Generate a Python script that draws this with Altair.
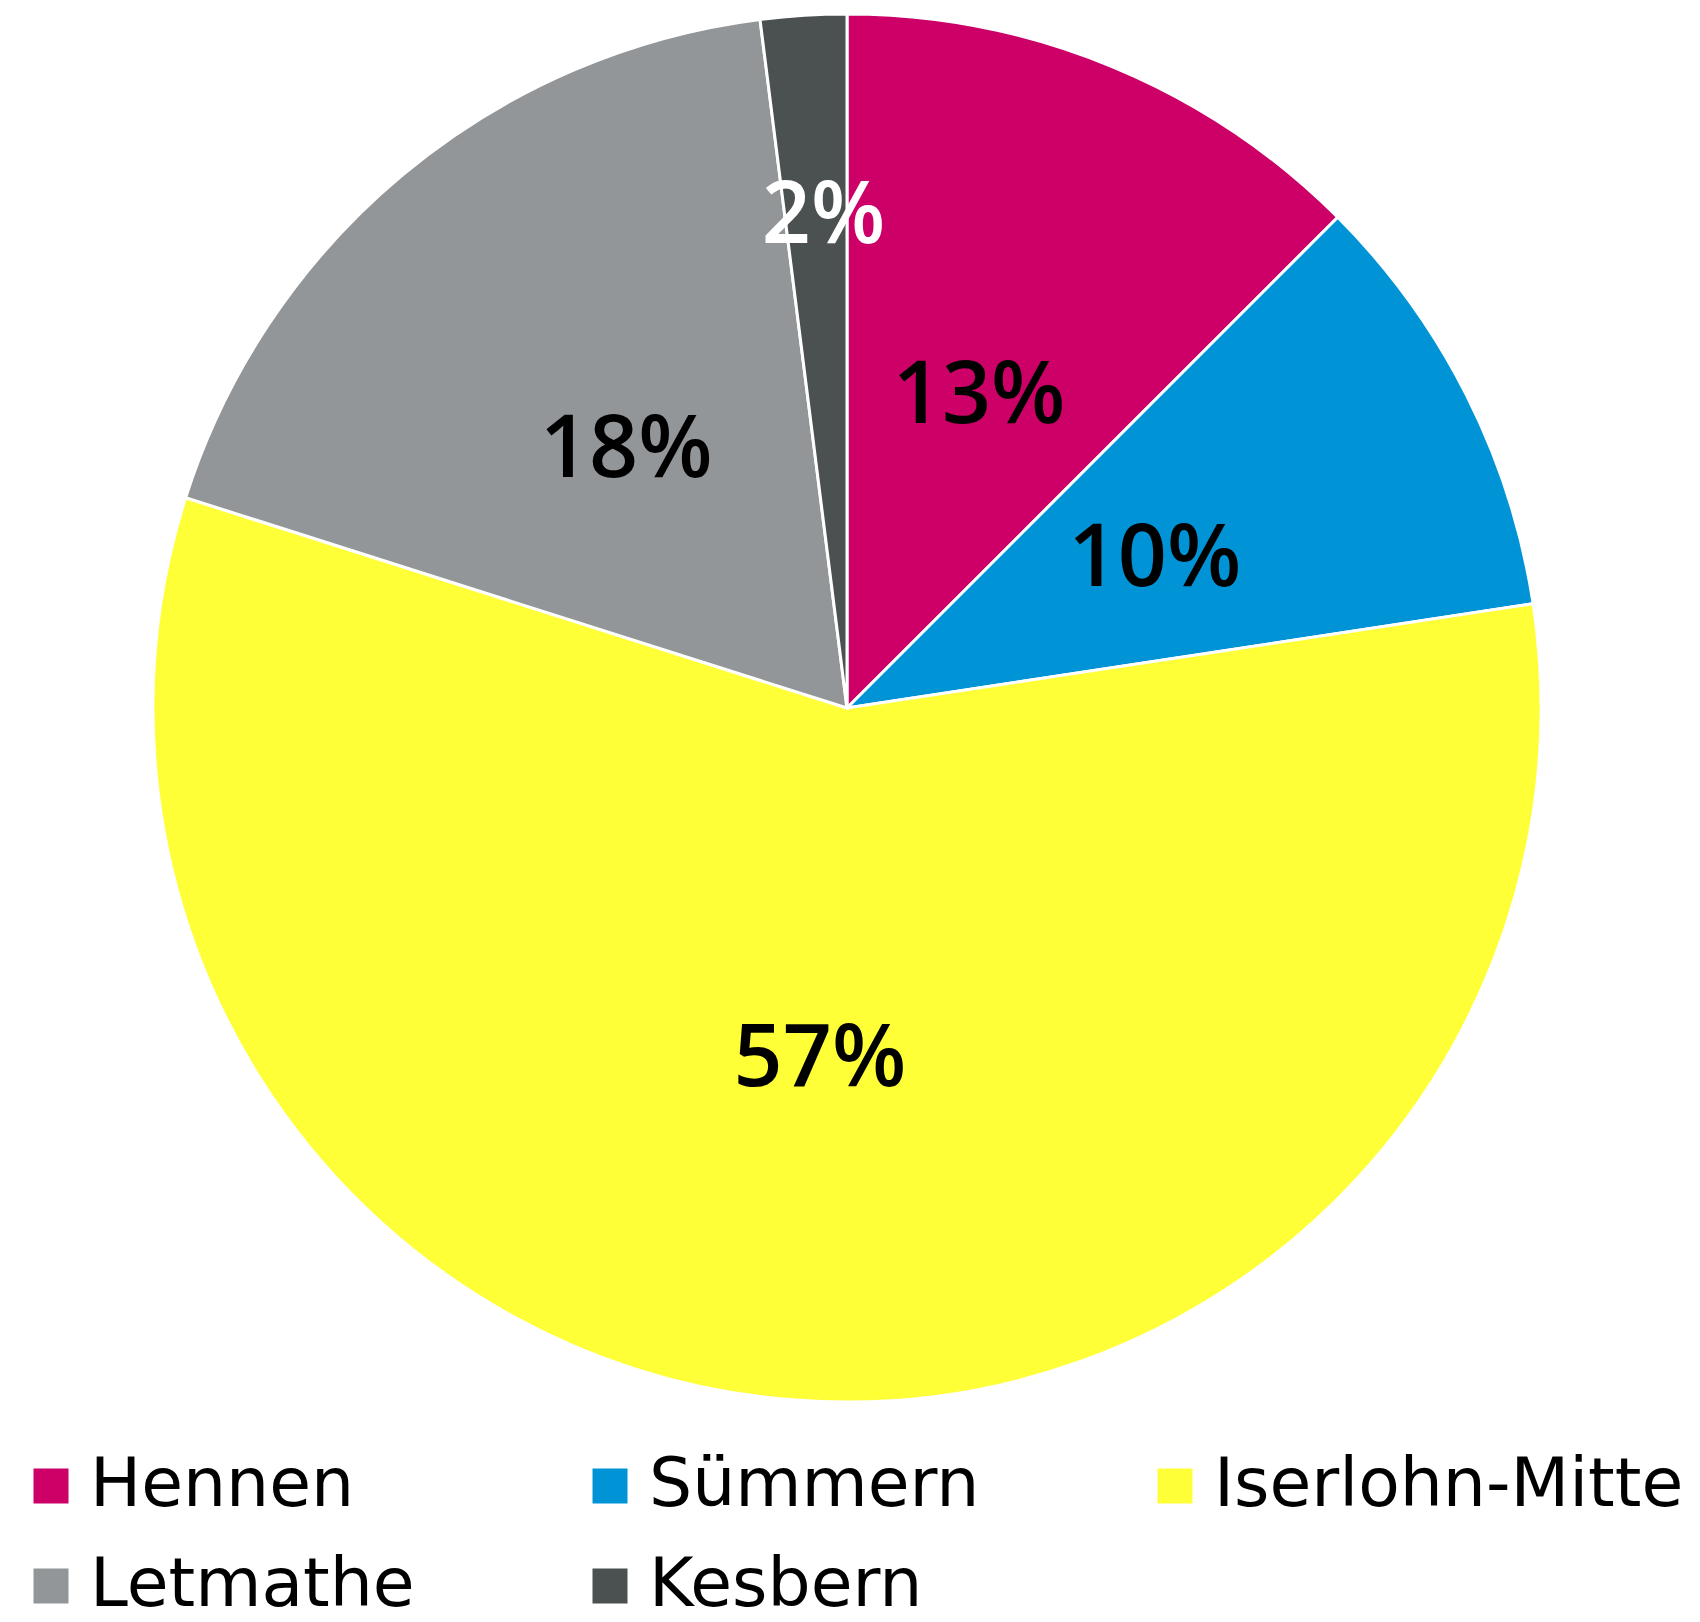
import altair as alt
import pandas as pd

regions = ["Hennen", "Sümmern", "Iserlohn-Mitte", "Letmathe", "Kesbern"]
shares = [12.5, 10.1, 57.3, 18.1, 2.0]
labels = ["13%", "10%", "57%", "18%", "2%"]
colors = ["#CC0066", "#0093D6", "#FFFF38", "#939699", "#4B5050"]

df = pd.DataFrame({
    "region": regions,
    "share": shares,
    "label": labels,
    "idx": list(range(len(regions))),
})

arcs = alt.Chart(df).mark_arc(outerRadius=694, stroke="white", strokeWidth=3).encode(
    theta=alt.Theta("share:Q", stack=True),
    order=alt.Order("idx:Q"),
    color=alt.Color(
        "region:N",
        scale=alt.Scale(domain=regions, range=colors),
        sort=regions,
        legend=alt.Legend(
            title=None,
            orient="none",
            direction="horizontal",
            legendX=9,
            legendY=1443,
            columns=3,
            symbolType="square",
            symbolSize=1225,
            symbolStrokeWidth=0,
            labelFont="DejaVu Sans",
            labelFontSize=68,
            labelColor="black",
            labelOffset=5,
            labelLimit=800,
            columnPadding=161,
            rowPadding=32,
        ),
    ),
)

text_base = (
    alt.Chart(df)
    .transform_window(cum="sum(share)", sort=[alt.SortField("idx")], frame=[None, 0])
    .transform_calculate(mid="datum.cum - datum.share / 2")
    .encode(theta=alt.Theta("mid:Q", stack=None), text="label:N")
)

inner_labels = text_base.mark_text(
    radius=345, dy=8, font="Open Sans", fontSize=86, fontWeight=600, color="black"
).transform_filter("datum.share >= 5")

outer_labels = text_base.mark_text(
    radius=500, dx=8, dy=8, font="Open Sans", fontSize=86, fontWeight=600, color="white"
).transform_filter("datum.share < 5")

chart = (
    alt.layer(arcs, inner_labels, outer_labels)
    .properties(width=1678, height=1398, padding=0)
    .configure_view(stroke=None)
)

chart.save("out.html", embed_options={"renderer": "svg", "actions": False})
